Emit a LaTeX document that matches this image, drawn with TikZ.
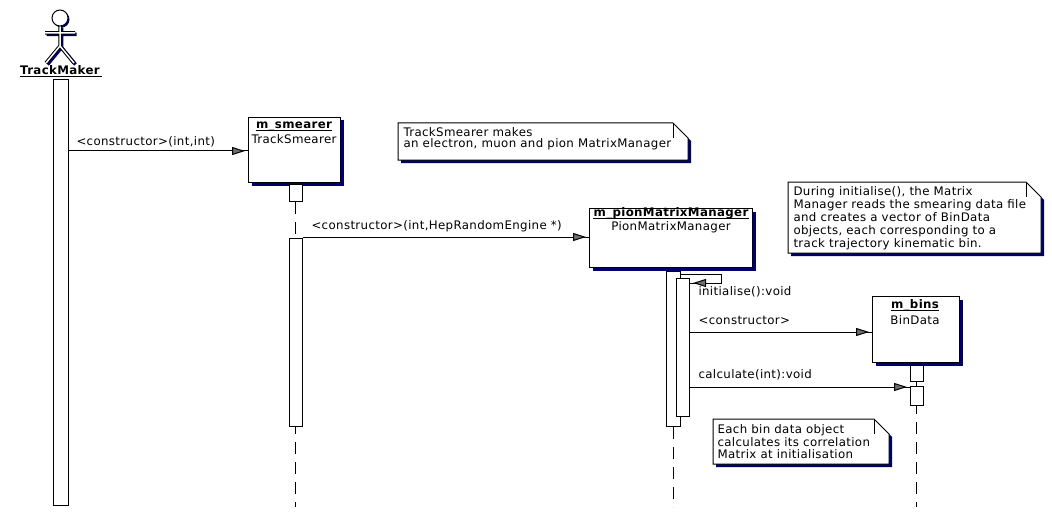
\documentclass[tikz,border=0pt]{standalone}
\usepackage{fontspec}
\setmainfont{DejaVu Sans}[LetterSpace=3]
\usetikzlibrary{arrows.meta,shadows}
\definecolor{navy}{RGB}{0,0,110}
\definecolor{tipgray}{RGB}{110,110,110}
\newcommand\umltext{\fontsize{11.8}{13}\selectfont}
\newcommand\notepoly[2]{([shift={#2}]#1.north west) -- ([shift={#2},xshift=-15pt]#1.north east) -- ([shift={#2},yshift=-15pt]#1.north east) -- ([shift={#2}]#1.south east) -- ([shift={#2}]#1.south west) -- cycle}
\newcommand\drawnote[1]{%
  \fill[navy] \notepoly{#1}{(3pt,-3pt)};
  \filldraw[fill=white] \notepoly{#1}{(0pt,0pt)};
  \draw ([xshift=-15pt]#1.north east) -- ([xshift=-15pt,yshift=-15pt]#1.north east);
}
\newcommand\uline[2]{\draw (#1.west |- 0,#2) -- (#1.east |- 0,#2);}
\begin{document}
\begin{tikzpicture}[x=1pt,y=-1pt,line width=1pt,
  every node/.style={inner sep=0pt,font=\umltext},
  objbox/.style={draw,fill=white,anchor=north west,general shadow={fill=navy,shadow xshift=3pt,shadow yshift=-3pt}},
  objtitle/.style={anchor=base,font=\umltext\bfseries},
  objclass/.style={anchor=base},
  actbox/.style={draw,fill=white,anchor=north west},
  notebox/.style={anchor=north west},
  lbl/.style={anchor=west},
  lifeline/.style={dash pattern=on 12pt off 8pt},
  msg/.style={postaction={draw,shorten >=3pt,-{Triangle[length=13pt,width=8pt,fill=tipgray]}}},
  actorline/.style={line width=3.5pt},
  actorcore/.style={white,line width=1.5pt}
]
\useasboundingbox (0,0) rectangle (1052,516);

% ---------- actor ----------
\begin{scope}[shift={(1.5,1.5)},navy]
  \draw[actorline] (60,26) -- (60,46) (45,33) -- (75,33) (46,63) -- (60,46) -- (74,63);
  \fill (60,18) circle (8);
\end{scope}
\draw[actorline] (60,26) -- (60,46) (45,33) -- (75,33) (46,63) -- (60,46) -- (74,63);
\draw[actorcore] (60,26) -- (60,46) (45,33) -- (75,33) (46,63) -- (60,46) -- (74,63);
\filldraw[fill=white] (60,18) circle (8);
\node[objtitle] (tm) at (60,75) {TrackMaker};
\draw (20,77) -- (102,77);

% ---------- lifelines ----------
\coordinate (smL) at (295,182);
\coordinate (smE) at (295,507);
\coordinate (piL) at (673,267);
\coordinate (piE) at (673,507);
\coordinate (biL) at (916,362);
\coordinate (biE) at (916,507);
\draw[lifeline] (smL) -- (smE);
\draw[lifeline] (piL) -- (piE);
\draw[lifeline] (biL) -- (biE);

% ---------- object boxes ----------
\node[objbox,minimum width=92pt,minimum height=65pt] (sm) at (248,117) {};
\node[objtitle] (smt) at (294,129) {m\_smearer};
\uline{smt}{131}
\node[objclass] (sms) at (294,144) {TrackSmearer};

\node[objbox,minimum width=163pt,minimum height=59pt] (pi) at (589,208) {};
\node[objtitle] (pit) at (671,216) {m\_pionMatrixManager};
\uline{pit}{218}
\node[objclass] (pis) at (671,230) {PionMatrixManager};

\node[objbox,minimum width=87pt,minimum height=66pt] (bi) at (872,296) {};
\node[objtitle] (bit) at (915,308) {m\_bins};
\uline{bit}{310}
\node[objclass] (bis) at (915,324) {BinData};

% ---------- activations ----------
\node[actbox,minimum width=15pt,minimum height=426pt] (tma) at (53,79) {};
\node[actbox,minimum width=13pt,minimum height=17pt] (sma1) at (289,184) {};
\node[actbox,minimum width=13pt,minimum height=188pt] (sma2) at (289,238) {};
\node[actbox,minimum width=14pt,minimum height=155pt] (pia1) at (666,271) {};
\node[actbox,minimum width=13pt,minimum height=138pt] (pia2) at (676,278) {};
\node[actbox,minimum width=13pt,minimum height=16pt] (bia1) at (910,365) {};
\node[actbox,minimum width=13pt,minimum height=19pt] (bia2) at (910,386) {};

% ---------- messages ----------
\draw[msg] (tma.east |- 0,151) -- (sm.west |- 0,151);
\node[lbl] (m1) at (76,142) {<constructor>(int,int)};

\draw[msg] (sma2.east |- 0,237) -- (pi.west |- 0,237);
\node[lbl] (m2) at (311,226) {<constructor>(int,HepRandomEngine *)};

\coordinate (sa) at (721,274);
\coordinate (sb) at (721,283);
\draw[msg] (pia1.east |- sa) -- (sa) -- (sb) -- (pia2.east |- sb);
\node[lbl] (m3) at (698,292) {initialise():void};

\draw[msg] (pia2.east |- 0,332) -- (bi.west |- 0,332);
\node[lbl] (m4) at (698,320) {<constructor>};

\draw[msg] (pia2.east |- 0,387) -- (bia2.west |- 0,387);
\node[lbl] (m5) at (698,375) {calculate(int):void};

% ---------- notes ----------
\node[notebox,minimum width=289pt,minimum height=36pt] (n1) at (398,123) {};
\drawnote{n1}
\node[anchor=north west,align=left,font=\fontsize{11.8}{11.5}\selectfont] (n1t) at (403,127)
  {TrackSmearer makes\\an electron, muon and pion MatrixManager};

\node[notebox,minimum width=252pt,minimum height=70pt] (n2) at (788,182) {};
\drawnote{n2}
\node[anchor=north west,align=left,font=\fontsize{11.8}{13}\selectfont] (n2t) at (793,186)
  {During initialise(), the Matrix\\Manager reads the smearing data file\\and creates a vector of BinData\\objects, each corresponding to a\\track trajectory kinematic bin.};

\node[notebox,minimum width=175pt,minimum height=44pt] (n3) at (713,419) {};
\drawnote{n3}
\node[anchor=north west,align=left,font=\fontsize{11.8}{12.7}\selectfont] (n3t) at (717,424)
  {Each bin data object\\calculates its correlation\\Matrix at initialisation};
\end{tikzpicture}
\end{document}
